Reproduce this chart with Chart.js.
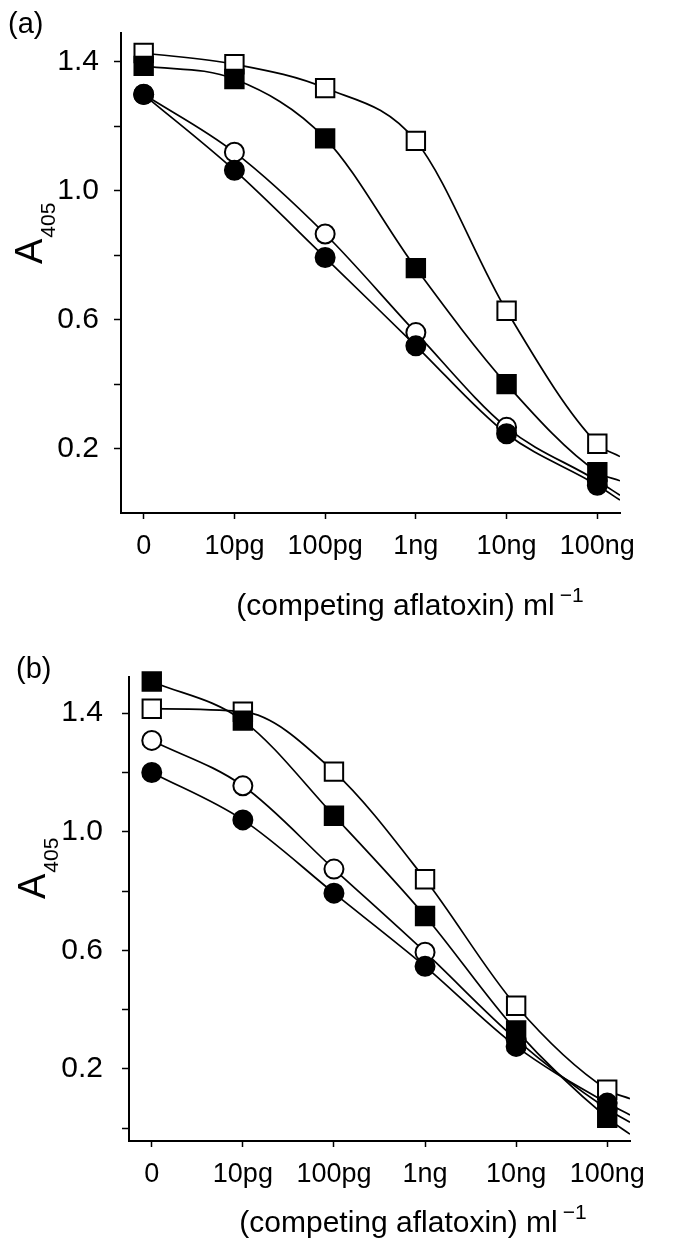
<!DOCTYPE html>
<html>
<head>
<meta charset="utf-8">
<script src="https://cdn.jsdelivr.net/npm/chart.js@4.4.1/dist/chart.umd.min.js"></script>
<style>
  html, body { margin: 0; padding: 0; background: #fff; }
  canvas { display: block; }
</style>
</head>
<body>
<canvas id="chartA" width="676" height="640"></canvas>
<canvas id="chartB" width="676" height="600"></canvas>
<script>
// competing aflatoxin concentrations, plotted at even log steps
const doseLabels = ["0", "10pg", "100pg", "1ng", "10ng", "100ng"];
const dosePos = [0, 1, 2, 3, 4, 5];
const curveEndX = 5.25;

// panel (a), A405
const aOpenSquare   = [1.428, 1.393, 1.319, 1.155, 0.628, 0.215];
const aFilledSquare = [1.388, 1.347, 1.163, 0.760, 0.400, 0.127];
const aOpenCircle   = [1.300, 1.120, 0.866, 0.560, 0.266, 0.100];
const aFilledCircle = [1.299, 1.064, 0.793, 0.519, 0.246, 0.086];
// where each fitted curve leaves the plot on the right (open sq, filled sq, open circ, filled circ)
const aCurveEnd = [0.175, 0.100, 0.055, 0.040];

// panel (b), A405
const bOpenSquare   = [1.415, 1.405, 1.203, 0.840, 0.413, 0.130];
const bFilledSquare = [1.507, 1.375, 1.054, 0.716, 0.330, 0.035];
const bOpenCircle   = [1.308, 1.155, 0.874, 0.594, 0.300, 0.065];
const bFilledCircle = [1.200, 1.040, 0.793, 0.546, 0.276, 0.085];
const bCurveEnd = [0.100, -0.020, 0.020, 0.045];

const aYTicks = [0.2, 0.4, 0.6, 0.8, 1.0, 1.2, 1.4];
const bYTicks = [0, 0.2, 0.4, 0.6, 0.8, 1.0, 1.2, 1.4];
const yTickLabels = ["0.2", "0.6", "1.0", "1.4"];

const FONT = '"Liberation Sans", Arial, Helvetica, sans-serif';

function buildDatasets(series, ends) {
    const curves = [];
    const marks = [];
    series.forEach((s, i) => {
        const pts = dosePos.map((x, j) => ({ x: x, y: s.values[j] }));
        curves.push({
            data: pts.concat([{ x: curveEndX, y: ends[i] }]),
            showLine: true,
            borderColor: "#000",
            borderWidth: 1.7,
            pointRadius: 0,
            cubicInterpolationMode: "monotone",
            fill: false,
            order: 10
        });
        marks.push({
            data: pts,
            showLine: false,
            pointStyle: s.shape,
            pointRadius: s.shape === "rect" ? 13 : 9.5,
            pointBackgroundColor: s.filled ? "#000" : "#fff",
            pointBorderColor: "#000",
            pointBorderWidth: 2,
            clip: false,
            order: s.filled ? 0 : 1
        });
    });
    return curves.concat(marks);
}

function textPlugin(t) {
    return {
        id: "panelText",
        afterDraw(chart) {
            const ctx = chart.ctx;
            ctx.save();
            ctx.fillStyle = "#000";
            ctx.textBaseline = "alphabetic";
            ctx.textAlign = "left";

            // panel letter
            ctx.font = "29px " + FONT;
            ctx.fillText(t.panel, t.panelX, t.panelY);

            // x title with superscript
            ctx.font = "30px " + FONT;
            const main = "(competing aflatoxin) ml";
            const mw = ctx.measureText(main).width;
            ctx.font = "21px " + FONT;
            const sup = "\u22121";
            const sw = ctx.measureText(sup).width;
            const x0 = t.xTitleCenter - (mw + 5 + sw) / 2;
            ctx.font = "30px " + FONT;
            ctx.fillText(main, x0, t.xTitleY);
            ctx.font = "21px " + FONT;
            ctx.fillText(sup, x0 + mw + 5, t.xTitleY - 13);

            // y title A405
            ctx.translate(t.yTitleX, t.yTitleY);
            ctx.rotate(-Math.PI / 2);
            ctx.font = "38px " + FONT;
            ctx.fillText("A", 0, 0);
            const aw = ctx.measureText("A").width;
            ctx.font = "21px " + FONT;
            ctx.fillText("405", aw + 1, 13);
            ctx.restore();
        }
    };
}

function makePanel(canvasId, series, ends, yTicks, yMin, yMax, box, text) {
    const ctx = document.getElementById(canvasId).getContext("2d");
    return new Chart(ctx, {
        type: "scatter",
        data: { datasets: buildDatasets(series, ends) },
        options: {
            responsive: false,
            animation: false,
            layout: { padding: { top: box.top, right: box.right, left: 0, bottom: 0 } },
            plugins: { legend: { display: false }, tooltip: { enabled: false } },
            scales: {
                x: {
                    type: "linear",
                    min: -0.25,
                    max: curveEndX,
                    afterBuildTicks: s => { s.ticks = dosePos.map(v => ({ value: v })); },
                    afterFit: s => { s.height = box.xHeight; },
                    ticks: {
                        autoSkip: false,
                        maxRotation: 0,
                        padding: 11,
                        color: "#000",
                        font: { family: FONT, size: 27 },
                        callback: (v, i) => doseLabels[i]
                    },
                    grid: { drawOnChartArea: false, drawTicks: true, tickLength: 6, tickColor: "#000", tickWidth: 1.5 },
                    border: { display: true, color: "#000", width: 2 }
                },
                y: {
                    min: yMin,
                    max: yMax,
                    afterBuildTicks: s => { s.ticks = yTicks.map(v => ({ value: v })); },
                    afterFit: s => { s.width = box.left; },
                    ticks: {
                        padding: box.yPad,
                        color: "#000",
                        font: { family: FONT, size: 30 },
                        callback: v => (yTickLabels.includes(v.toFixed(1)) ? v.toFixed(1) : "")
                    },
                    grid: { drawOnChartArea: false, drawTicks: true, tickLength: 7, tickColor: "#000", tickWidth: 1.5 },
                    border: { display: true, color: "#000", width: 2 }
                }
            }
        },
        plugins: [textPlugin(text)]
    });
}

makePanel("chartA",
    [
        { values: aOpenSquare, shape: "rect", filled: false },
        { values: aFilledSquare, shape: "rect", filled: true },
        { values: aOpenCircle, shape: "circle", filled: false },
        { values: aFilledCircle, shape: "circle", filled: true }
    ],
    aCurveEnd, aYTicks, 0, 1.49,
    { top: 22, right: 56, left: 121, xHeight: 127, yPad: 15 },
    { panel: "(a)", panelX: 8, panelY: 33, xTitleCenter: 410, xTitleY: 615, yTitleX: 42, yTitleY: 264 }
);

makePanel("chartB",
    [
        { values: bOpenSquare, shape: "rect", filled: false },
        { values: bFilledSquare, shape: "rect", filled: true },
        { values: bOpenCircle, shape: "circle", filled: false },
        { values: bFilledCircle, shape: "circle", filled: true }
    ],
    bCurveEnd, bYTicks, -0.043, 1.522,
    { top: 33, right: 46, left: 129, xHeight: 99, yPad: 19 },
    { panel: "(b)", panelX: 16, panelY: 38, xTitleCenter: 413, xTitleY: 592, yTitleX: 45, yTitleY: 259 }
);
</script>
</body>
</html>
